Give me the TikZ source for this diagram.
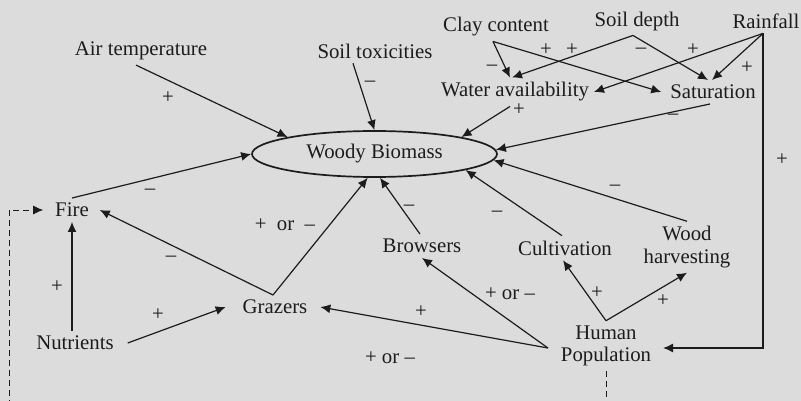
\documentclass[tikz,border=0pt]{standalone}
\usepackage{fontspec}
\setmainfont{Liberation Serif}
\usetikzlibrary{arrows.meta,shapes.geometric}
\definecolor{bggray}{RGB}{220,220,220}
\definecolor{ink}{RGB}{28,28,28}
\newcommand{\labelfont}{\fontsize{20.8}{22.5}\selectfont}
\tikzstyle{factor} = [inner sep=2pt, outer sep=3pt, align=center,
    text=ink, font=\labelfont]
\tikzstyle{biomass} = [draw=ink, ellipse, line width=1.7pt,
    minimum width=245pt, minimum height=46pt, inner sep=0pt,
    text=ink, font=\labelfont]
\tikzstyle{sign} = [inner sep=0pt, text=ink, font=\labelfont]
\tikzstyle{arrow} = [draw=ink, line width=1.2pt, ->]
\tikzstyle{feedback} = [arrow, line width=1pt, dash pattern=on 6pt off 4pt]

\begin{document}
\begin{tikzpicture}[x=1pt, y=-1pt, >={Latex[length=10pt,width=9pt]}]
     \fill [bggray] (0,0) rectangle (801,401);
     \useasboundingbox (0,0) rectangle (801,401);
     \clip (0,0) rectangle (801,401);

     % factors
     \node [biomass] (woody) at (374.5,154) {Woody Biomass};
     \node [factor] (airtemp) at (141,51) {Air temperature};
     \node [factor] (soiltox) at (375,51) {Soil toxicities};
     \node [factor] (clay) at (496,27) {Clay content};
     \node [factor] (soildepth) at (637,21) {Soil depth};
     \node [factor] (rainfall) at (766,21) {Rainfall};
     \node [factor] (water) at (515,92) {Water availability};
     \node [factor] (saturation) at (713,92) {Saturation};
     \node [factor] (fire) at (72,210) {Fire};
     \node [factor] (nutrients) at (75,343) {Nutrients};
     \node [factor] (grazers) at (275,307) {Grazers};
     \node [factor] (browsers) at (422,246) {Browsers};
     \node [factor] (cultivation) at (565,248) {Cultivation};
     \node [factor] (woodharv) at (687,247) {Wood\\harvesting};
     \node [factor] (human) at (606,346) {Human\\Population};

     % soil and climate
     \draw [arrow] ([xshift=-3pt]clay.south) -- ([xshift=-5pt]water.north);
     \draw [arrow] ([xshift=-3pt]clay.south) -- ([xshift=-4pt]saturation.west);
     \draw [arrow] ([xshift=-4pt]soildepth.south) -- ([xshift=-3pt]water.north);
     \draw [arrow] ([xshift=-4pt]soildepth.south) -- ([xshift=-5pt]saturation.north);
     \draw [arrow] ([xshift=-3pt]rainfall.south) -- (water.east);
     \draw [arrow] ([xshift=-3pt]rainfall.south) -- ([xshift=-1pt]saturation.north);
     \draw [arrow] ([xshift=-3pt]rainfall.south) |- ([xshift=7pt,yshift=-2pt]human.east);

     % into woody biomass
     \draw [arrow] ([xshift=-5pt]airtemp.south) -- (woody.169);
     \draw [arrow] ([xshift=-22pt]soiltox.south) -- (woody.north);
     \draw [arrow] ([xshift=-5pt]water.south) -- (woody.11);
     \draw [arrow] ([xshift=-3pt]saturation.south) -- (woody.2);
     \draw [arrow] (woodharv.north) -- (woody.-3);
     \draw [arrow] ([xshift=-3pt]cultivation.north) -- (woody.-10);
     \draw [arrow] ([xshift=-2pt]browsers.north) -- (woody.-77);
     \draw [arrow] ([xshift=-2pt]grazers.north) -- (woody.-106);
     \draw [arrow] (fire.north) -- (woody.west);

     % fire, grazers and people
     \draw [arrow] ([xshift=-2pt]grazers.north) -- ([xshift=6pt]fire.east);
     \draw [arrow] ([xshift=-3pt]nutrients.north) -- (fire.south);
     \draw [arrow] ([xshift=9pt]nutrients.east) -- ([xshift=-12pt]grazers.west);
     \draw [arrow] ([xshift=-8pt,yshift=-2pt]human.west) -- ([xshift=8pt]grazers.east);
     \draw [arrow] ([xshift=-8pt,yshift=-2pt]human.west) -- (browsers.south);
     \draw [arrow] (human.north) -- ([xshift=-2pt]cultivation.south);
     \draw [arrow] (human.north) -- (woodharv.south);

     % feedback loop below the frame
     \coordinate (loop) at (9,430);
     \draw [feedback] (human.south) |- (loop) |- ([xshift=-7pt]fire.west);

     % signs
     \node [sign] (s1) at (168,98) {+};
     \node [sign] (s2) at (370,84) {--};
     \node [sign] (s3) at (492,68) {--};
     \node [sign] (s4) at (546,50) {+};
     \node [sign] (s5) at (572,50) {+};
     \node [sign] (s6) at (641,51) {--};
     \node [sign] (s7) at (693,50) {+};
     \node [sign] (s8) at (747,68) {+};
     \node [sign] (s9) at (782,160) {+};
     \node [sign] (s10) at (519,110) {+};
     \node [sign] (s11) at (673,117) {--};
     \node [sign] (s12) at (615,188) {--};
     \node [sign] (s13) at (497,214) {--};
     \node [sign] (s14) at (409,208) {--};
     \node [sign] (s15) at (285,225) {+\ \ or\ \ --};
     \node [sign] (s16) at (171,259) {--};
     \node [sign] (s17) at (150,192) {--};
     \node [sign] (s18) at (57,287) {+};
     \node [sign] (s19) at (158,315) {+};
     \node [sign] (s20) at (421,312) {+};
     \node [sign] (s21) at (390,358) {+ or --};
     \node [sign] (s22) at (510,294) {+ or --};
     \node [sign] (s23) at (597,293) {+};
     \node [sign] (s24) at (663,301) {+};
\end{tikzpicture}
\end{document}
